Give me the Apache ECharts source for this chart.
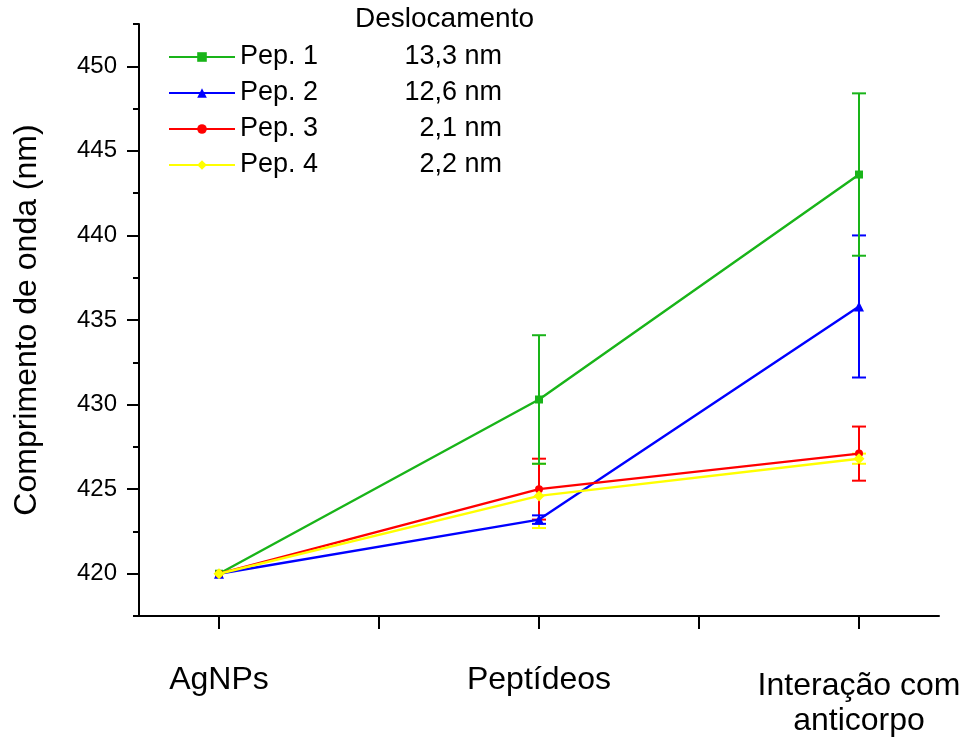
<!DOCTYPE html>
<html>
<head>
<meta charset="utf-8">
<script src="https://cdn.jsdelivr.net/npm/echarts@6/dist/echarts.min.js"></script>
<style>
  html, body { margin: 0; padding: 0; background: #fff; }
  #chart { width: 965px; height: 741px; }
</style>
</head>
<body>
<div id="chart"></div>
<script>
// Stages of the assay (x positions 0, 1, 2)
const categories = ['AgNPs', 'Peptídeos', 'Interação com\nanticorpo'];

// Peak wavelength (nm) per peptide and its error (nm)
const pep1 = [420, 430.3, 443.6];
const pep1Err = [0, 3.8, 4.8];
const pep2 = [420, 423.2, 435.8];
const pep2Err = [0, 0.25, 4.2];
const pep3 = [420, 425.0, 427.1];
const pep3Err = [0, 1.8, 1.6];
const pep4 = [420, 424.6, 426.8];
const pep4Err = [0, 1.9, 0.3];

const seriesNames = ['Pep. 1', 'Pep. 2', 'Pep. 3', 'Pep. 4'];
const shifts = ['13,3 nm', '12,6 nm', '2,1 nm', '2,2 nm'];

const yTickLabels = [420, 425, 430, 435, 440, 445, 450];
const yMinorTicks = [417.5, 422.5, 427.5, 432.5, 437.5, 442.5, 447.5, 452.5];

const colors = ['#19b419', '#0000ff', '#ff0000', '#ffff00'];
const symbols = ['rect', 'triangle', 'circle', 'diamond'];
const symbolSizes = [8, 10, 8, 11];

const values = [pep1, pep2, pep3, pep4];
const errors = [pep1Err, pep2Err, pep3Err, pep4Err];

const FONT = 'Liberation Sans, Arial, sans-serif';

const chart = echarts.init(document.getElementById('chart'), null, { renderer: 'canvas' });

function errorBarSeries(i) {
  return {
    type: 'custom',
    name: seriesNames[i] + ' err',
    z: 1,
    silent: true,
    data: values[i].map((v, k) => [k, v, errors[i][k]]),
    renderItem: function (params, api) {
      const x = api.value(0), y = api.value(1), e = api.value(2);
      if (!e) return null;
      const top = api.coord([x, y + e]);
      const bot = api.coord([x, y - e]);
      const half = 7;
      const style = { stroke: colors[i], lineWidth: 2 };
      return {
        type: 'group',
        children: [
          { type: 'line', shape: { x1: top[0], y1: top[1], x2: bot[0], y2: bot[1] }, style: style },
          { type: 'line', shape: { x1: top[0] - half, y1: top[1], x2: top[0] + half, y2: top[1] }, style: style },
          { type: 'line', shape: { x1: bot[0] - half, y1: bot[1], x2: bot[0] + half, y2: bot[1] }, style: style }
        ]
      };
    }
  };
}

function lineSeries(i) {
  return {
    type: 'line',
    name: seriesNames[i],
    z: 3,
    data: values[i].map((v, k) => [k, v]),
    symbol: symbols[i],
    symbolSize: symbolSizes[i],
    showAllSymbol: true,
    lineStyle: { color: colors[i], width: 2.4 },
    itemStyle: { color: colors[i] },
    emphasis: { disabled: true }
  };
}

const series = [];
[3, 2, 1, 0].forEach(i => series.push(errorBarSeries(i)));
[0, 1, 2, 3].forEach(i => series.push(lineSeries(i)));

const axisBlack = { color: '#000', width: 2 };

chart.setOption({
  animation: false,
  backgroundColor: '#fff',
  grid: { left: 139, right: 26, top: 24, bottom: 125, containLabel: false },
  legend: {
    data: seriesNames,
    orient: 'vertical',
    left: 168,
    top: 39,
    padding: 0,
    itemGap: 0,
    itemWidth: 66,
    itemHeight: 12,
    selectedMode: false,
    formatter: function (name) {
      const i = seriesNames.indexOf(name);
      return '{a|' + name + '}{b|' + shifts[i] + '}';
    },
    textStyle: {
      fontFamily: FONT,
      fontSize: 27,
      color: '#000',
      lineHeight: 36,
      rich: {
        a: { fontFamily: FONT, fontSize: 27, color: '#000', width: 122, align: 'left', lineHeight: 36 },
        b: { fontFamily: FONT, fontSize: 27, color: '#000', width: 140, align: 'right', lineHeight: 36 }
      }
    }
  },
  graphic: [
    {
      type: 'text',
      left: 355,
      top: 5,
      style: { text: 'Deslocamento', fontFamily: FONT, fontSize: 28, fill: '#000' }
    }
  ],
  xAxis: {
    type: 'value',
    min: -0.25,
    max: 2.25,
    splitLine: { show: false },
    axisLine: { show: true, onZero: false, lineStyle: axisBlack },
    axisTick: { show: true, inside: false, length: 13, lineStyle: axisBlack, customValues: [0, 0.5, 1, 1.5, 2] },
    axisLabel: {
      customValues: [0, 1, 2],
      margin: 48,
      fontFamily: FONT,
      fontSize: 32,
      color: '#000',
      formatter: function (v) {
        const k = Math.round(v);
        return k === 2 ? '{c|' + categories[k] + '}' : categories[k];
      },
      rich: {
        c: { fontFamily: FONT, fontSize: 32, color: '#000', lineHeight: 35, padding: [10, 0, 0, 0], align: 'center' }
      }
    }
  },
  yAxis: [
    {
      type: 'value',
      position: 'left',
      min: 417.5,
      max: 452.5,
      splitLine: { show: false },
      axisLine: { show: true, onZero: false, lineStyle: axisBlack },
      axisTick: { show: true, length: 12, lineStyle: axisBlack, customValues: yTickLabels },
      axisLabel: {
        customValues: yTickLabels,
        margin: 22,
        fontFamily: FONT,
        fontSize: 24,
        color: '#000'
      },
      name: 'Comprimento de onda (nm)',
      nameLocation: 'middle',
      nameGap: 96,
      nameTextStyle: { fontFamily: FONT, fontSize: 32, color: '#000' }
    },
    {
      // minor ticks between the labelled values
      type: 'value',
      position: 'left',
      offset: 0,
      min: 417.5,
      max: 452.5,
      splitLine: { show: false },
      axisLine: { show: false, onZero: false },
      axisLabel: { show: false },
      axisTick: { show: true, length: 6, lineStyle: axisBlack, customValues: yMinorTicks }
    }
  ],
  series: series
});
</script>
</body>
</html>
